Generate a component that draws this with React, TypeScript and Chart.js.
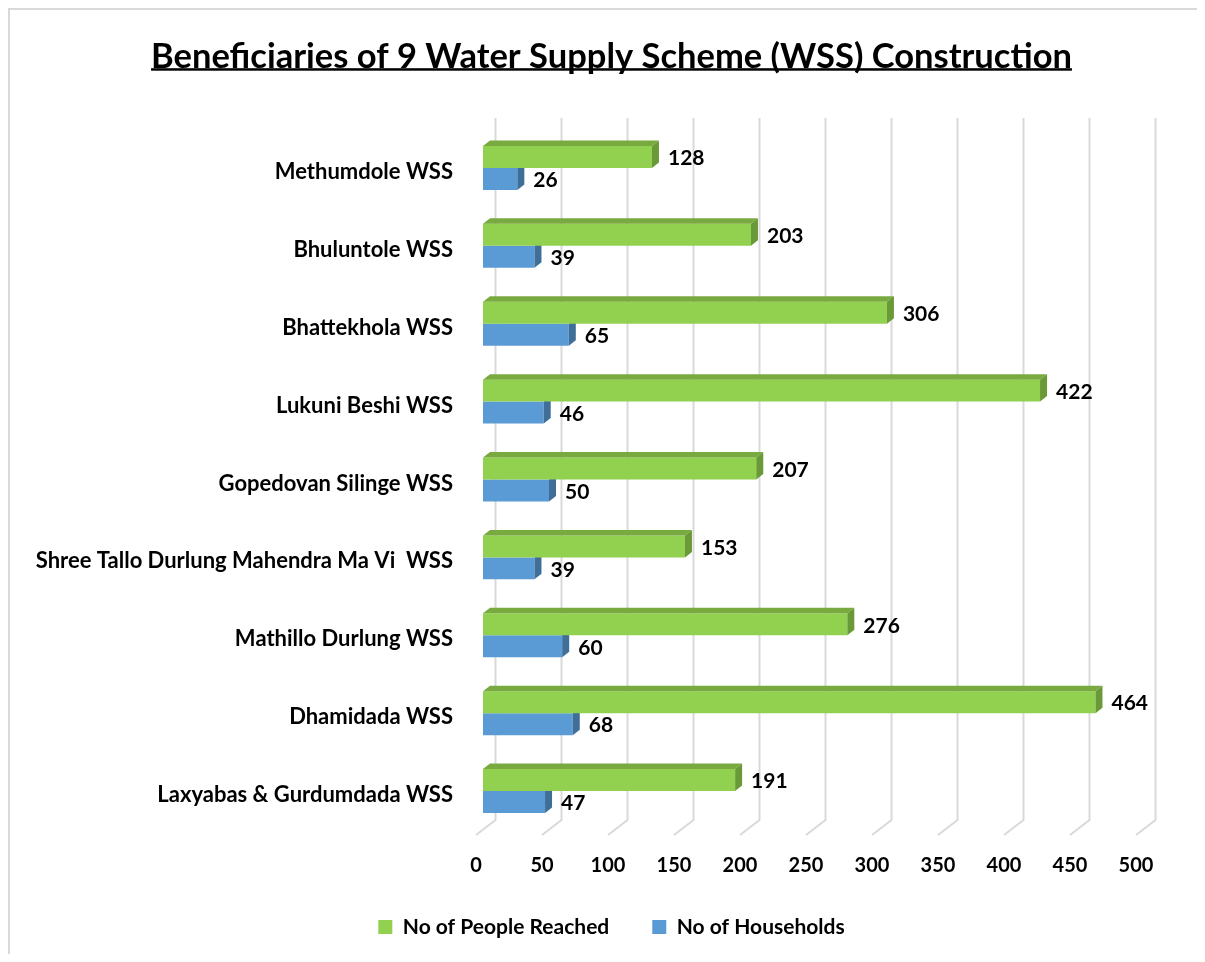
import React, { useEffect, useRef } from 'react';
import { Chart, registerables } from 'chart.js';

Chart.register(...registerables);

const titleText = 'Beneficiaries of 9 Water Supply Scheme (WSS) Construction';
const categories = [
  'Methumdole WSS',
  'Bhuluntole WSS',
  'Bhattekhola WSS',
  'Lukuni Beshi WSS',
  'Gopedovan Silinge WSS',
  'Shree Tallo Durlung Mahendra Ma Vi  WSS',
  'Mathillo Durlung WSS',
  'Dhamidada WSS',
  'Laxyabas & Gurdumdada WSS',
];
const seriesNames = ['No of People Reached', 'No of Households'];
const peopleReached = [128, 203, 306, 422, 207, 153, 276, 464, 191];
const households = [26, 39, 65, 46, 50, 39, 60, 68, 47];
const xTickValues = [0, 50, 100, 150, 200, 250, 300, 350, 400, 450, 500];

const FONT = 'Lato';
const GREEN = '#92D050';
const GREEN_TOP = '#79AA40';
const GREEN_SIDE = '#6A9A37';
const BLUE = '#5B9BD5';
const BLUE_SIDE = '#3F6E98';
const DX = 7;
const DY = 5.5;
const TITLE_SIZE = 34.5;
const TITLE_PAD_TOP = 26;

const depthPlugin = {
  id: 'depth3d',
  afterLayout(chart: any) {
    // let the long category labels extend left without being clipped
    if (chart.scales.y) chart.scales.y.left = 0;
  },
  beforeDatasetsDraw(chart: any) {
    const { ctx, chartArea, scales } = chart;
    const x = scales.x;
    ctx.save();
    ctx.strokeStyle = '#d9d9d9';
    ctx.lineWidth = 2;
    x.ticks.forEach((t: any) => {
      const px = x.getPixelForValue(t.value);
      ctx.beginPath();
      ctx.moveTo(px + 12.5, chartArea.top - 11);
      ctx.lineTo(px + 12.5, chartArea.bottom - 10);
      ctx.lineTo(px - 7, chartArea.bottom + 5);
      ctx.stroke();
    });
    ctx.restore();
  },
  afterDatasetDraw(chart: any, args: any) {
    const { ctx } = chart;
    const i = args.index;
    const meta = args.meta;
    const values = chart.data.datasets[i].data;
    ctx.save();
    meta.data.forEach((bar: any, j: number) => {
      const { x, y, base, height } = bar.getProps(['x', 'y', 'base', 'height'], true);
      const top = y - height / 2;
      const bottom = y + height / 2;
      if (i === 0) {
        ctx.fillStyle = GREEN_TOP;
        ctx.beginPath();
        ctx.moveTo(base, top);
        ctx.lineTo(x, top);
        ctx.lineTo(x + DX, top - DY);
        ctx.lineTo(base + DX, top - DY);
        ctx.closePath();
        ctx.fill();
      }
      ctx.fillStyle = i === 0 ? GREEN_SIDE : BLUE_SIDE;
      ctx.beginPath();
      ctx.moveTo(x, top);
      ctx.lineTo(x + DX, top - DY);
      ctx.lineTo(x + DX, bottom - DY);
      ctx.lineTo(x, bottom);
      ctx.closePath();
      ctx.fill();
      ctx.fillStyle = '#000';
      ctx.font = `bold 21px ${FONT}`;
      ctx.textAlign = 'left';
      ctx.textBaseline = 'middle';
      ctx.fillText(String(values[j]), x + 16, y + 1.5);
    });
    ctx.restore();
  },
  afterDraw(chart: any) {
    const { ctx } = chart;
    const tb = chart.titleBlock;
    if (!tb) return;
    ctx.save();
    ctx.font = `bold ${TITLE_SIZE}px ${FONT}`;
    const w = ctx.measureText(titleText).width;
    const cx = (tb.left + tb.right) / 2;
    const ly = tb.top + TITLE_PAD_TOP + (TITLE_SIZE * 1.2) / 2 + 11.5;
    ctx.fillStyle = '#000';
    ctx.fillRect(cx - w / 2, ly, w, 2.5);
    ctx.restore();
  },
};

export default function App() {
  const ref = useRef<HTMLCanvasElement>(null);
  useEffect(() => {
    if (!ref.current) return;
    const chart = new Chart(ref.current, {
      type: 'bar',
      data: {
        labels: categories,
        datasets: [
          { label: seriesNames[0], data: peopleReached, backgroundColor: GREEN, borderWidth: 0 },
          { label: seriesNames[1], data: households, backgroundColor: BLUE, borderWidth: 0 },
        ],
      },
      options: {
        indexAxis: 'y',
        animation: false,
        responsive: false,
        devicePixelRatio: 1,
        layout: { padding: { left: 70, right: 62, top: 0, bottom: 6.5 } },
        datasets: { bar: { categoryPercentage: 0.564, barPercentage: 1.0 } },
        scales: {
          x: {
            min: 0,
            max: 500,
            afterBuildTicks: (s: any) => {
              s.ticks = xTickValues.map((v) => ({ value: v }));
            },
            ticks: { labelOffset: -7, padding: 24, color: '#000', font: { family: FONT, size: 20, weight: 700 } },
            grid: { display: false, drawTicks: false },
            border: { display: false },
            afterFit: (s: any) => {
              s.height = 43.5;
            },
          },
          y: {
            ticks: { padding: 30, labelOffset: 4, color: '#000', font: { family: FONT, size: 22, weight: 700 } },
            grid: { display: false, drawTicks: false },
            border: { display: false },
            afterFit: (s: any) => {
              s.width = 403;
            },
          },
        },
        plugins: {
          title: {
            display: true,
            text: titleText,
            color: '#000',
            font: { family: FONT, size: TITLE_SIZE, weight: 700 },
            padding: { top: TITLE_PAD_TOP, bottom: 119 - TITLE_PAD_TOP - TITLE_SIZE * 1.2 },
          },
          legend: {
            position: 'bottom',
            labels: {
              boxWidth: 14,
              boxHeight: 14,
              padding: 43,
              color: '#000',
              font: { family: FONT, size: 21, weight: 700 },
            },
          },
          tooltip: { enabled: false },
        },
      },
      plugins: [depthPlugin],
    } as any);
    return () => chart.destroy();
  }, []);
  return (
    <div
      style={{
        width: 1197,
        height: 946,
        boxSizing: 'border-box',
        borderLeft: '2px solid #d9d9d9',
        borderTop: '2px solid #d9d9d9',
      }}
    >
      <canvas ref={ref} width={1195} height={944} style={{ display: 'block' }} />
    </div>
  );
}
